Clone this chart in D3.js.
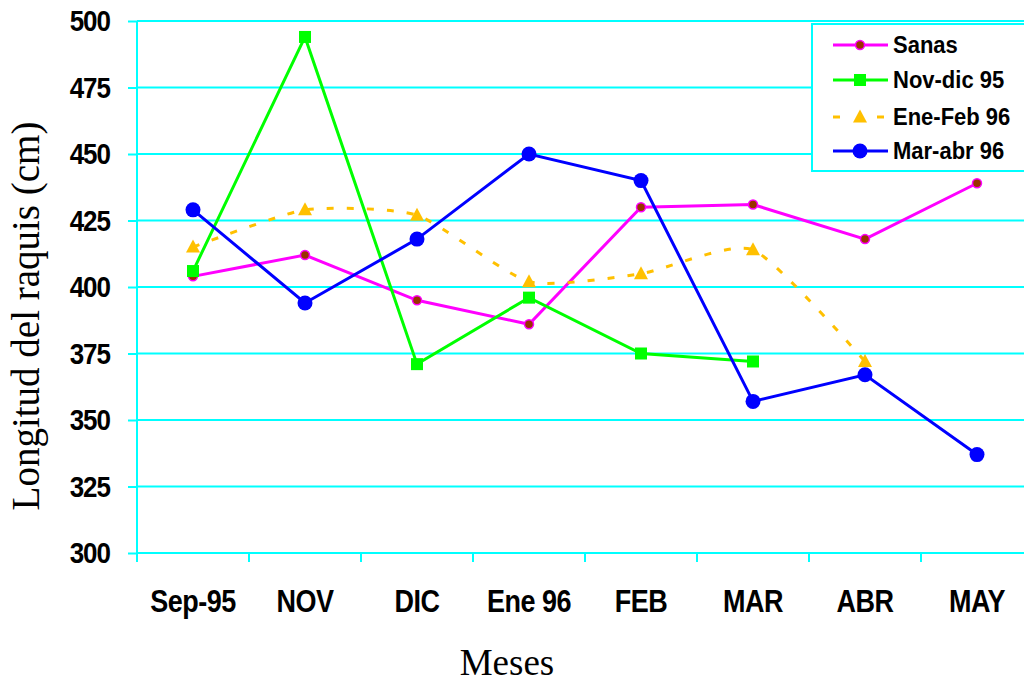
<!DOCTYPE html>
<html>
<head>
<meta charset="utf-8">
<script src="https://cdn.jsdelivr.net/npm/d3@7"></script>
<style>
  html, body { margin: 0; padding: 0; background: #ffffff; overflow: hidden; }
  svg { display: block; }
</style>
</head>
<body>
<svg id="chart" width="1024" height="682"></svg>
<script>
// ---- data ----
const categories = ["Sep-95", "NOV", "DIC", "Ene 96", "FEB", "MAR", "ABR", "MAY"];
const sanas   = [404, 412, 395, 386, 430, 431, 418, 439];
const novDic95 = [406, 494, 371, 396, 375, 372];
const eneFeb96 = [415, 429, 427, 402, 405, 414, 372];
const marAbr96 = [429, 394, 418, 450, 440, 357, 367, 337];
const seriesNames = ["Sanas", "Nov-dic 95", "Ene-Feb 96", "Mar-abr 96"];
const yTicks = [300, 325, 350, 375, 400, 425, 450, 475, 500];
const xTitle = "Meses";
const yTitle = "Longitud del raquis (cm)";

(function () {
// ---- layout ----
const svg = d3.select("#chart");
const plotLeft = 137, plotTop = 21, plotBottom = 553, step = 112;
const cyan = "#00FFFF";
const boldFont = "'Liberation Sans', Arial, sans-serif";
const serifFont = "'Liberation Serif', 'Times New Roman', serif";

const x = d3.scaleBand().domain(categories).range([plotLeft, plotLeft + step * categories.length]).padding(0);
const y = d3.scaleLinear().domain([300, 500]).range([plotBottom, plotTop]);
const cx = c => x(c) + x.bandwidth() / 2;

// gridlines
svg.append("g").selectAll("line").data(yTicks).join("line")
  .attr("x1", plotLeft).attr("x2", 1024)
  .attr("y1", d => y(d)).attr("y2", d => y(d))
  .attr("stroke", cyan).attr("stroke-width", 2);

// y axis
const yAxis = svg.append("g").attr("transform", `translate(${plotLeft},0)`)
  .call(d3.axisLeft(y).tickValues(yTicks).tickSize(9).tickSizeOuter(0).tickPadding(18));
yAxis.select(".domain").attr("stroke", cyan).attr("stroke-width", 2)
  .attr("d", `M0,${plotTop}V${plotBottom + 8}`);
yAxis.selectAll(".tick line").attr("stroke", cyan).attr("stroke-width", 2);
yAxis.selectAll(".tick text")
  .attr("fill", "#000").attr("font-family", boldFont).attr("font-weight", "bold")
  .attr("font-size", 26).attr("letter-spacing", "-1")
  .attr("transform", "scale(1,1.12)").attr("dy", "0.34em");

// x axis
const xAxis = svg.append("g").attr("transform", `translate(0,${plotBottom})`)
  .call(d3.axisBottom(x).tickSize(0).tickSizeOuter(0).tickPadding(0));
xAxis.select(".domain").remove();
xAxis.selectAll(".tick text")
  .attr("fill", "#000").attr("font-family", boldFont).attr("font-weight", "bold")
  .attr("font-size", 27).attr("letter-spacing", "-0.5")
  .attr("dy", 0).attr("y", 51)
  .attr("transform", "scale(1,1.15)");
// x tick marks between categories
svg.append("g").selectAll("line").data(categories).join("line")
  .attr("x1", d => x(d)).attr("x2", d => x(d))
  .attr("y1", plotBottom).attr("y2", plotBottom + 9)
  .attr("stroke", cyan).attr("stroke-width", 2);

// titles
svg.append("text").text(xTitle)
  .attr("x", 507).attr("y", 675).attr("text-anchor", "middle")
  .attr("font-family", serifFont).attr("font-size", 37).attr("fill", "#000");
svg.append("text").text(yTitle)
  .attr("transform", "translate(39,316) rotate(-90)").attr("text-anchor", "middle")
  .attr("font-family", serifFont).attr("font-size", 39).attr("fill", "#000");

// series definitions
const series = [
  { name: seriesNames[0], values: sanas, color: "#FF00FF", marker: "sanas", curve: d3.curveLinear, dash: null },
  { name: seriesNames[1], values: novDic95, color: "#00FF00", marker: "square", curve: d3.curveLinear, dash: null },
  { name: seriesNames[2], values: eneFeb96, color: "#FFC000", marker: "triangle", curve: d3.curveCardinal.tension(0.4), dash: "7,13" },
  { name: seriesNames[3], values: marAbr96, color: "#0000FF", marker: "circle", curve: d3.curveLinear, dash: null }
];

function drawMarker(g, type, color, px, py) {
  if (type === "sanas") {
    g.append("circle").attr("cx", px).attr("cy", py).attr("r", 4.5)
      .attr("fill", "#993300").attr("stroke", "#FF00FF").attr("stroke-width", 1.5);
  } else if (type === "square") {
    g.append("rect").attr("x", px - 6).attr("y", py - 6).attr("width", 12).attr("height", 12)
      .attr("fill", color);
  } else if (type === "triangle") {
    g.append("path").attr("d", `M${px},${py - 7.5}L${px + 7},${py + 5.5}L${px - 7},${py + 5.5}Z`)
      .attr("fill", color);
  } else {
    g.append("circle").attr("cx", px).attr("cy", py).attr("r", 7.5).attr("fill", color);
  }
}

const plot = svg.append("g");
series.forEach(s => {
  const pts = s.values.map((v, i) => [cx(categories[i]), y(v)]);
  const line = d3.line().curve(s.curve);
  plot.append("path").attr("d", line(pts))
    .attr("fill", "none").attr("stroke", s.color).attr("stroke-width", 3)
    .attr("stroke-dasharray", s.dash);
  const mg = plot.append("g");
  pts.forEach(p => drawMarker(mg, s.marker, s.color, p[0], p[1]));
});

// legend
const lg = svg.append("g");
lg.append("rect").attr("x", 812).attr("y", 24).attr("width", 230).attr("height", 147)
  .attr("fill", "#fff").attr("stroke", cyan).attr("stroke-width", 2);
const legendY = [45, 80, 117, 151];
series.forEach((s, i) => {
  const ly = legendY[i];
  if (s.dash) {
    lg.append("line").attr("x1", 833).attr("x2", 840).attr("y1", ly).attr("y2", ly)
      .attr("stroke", s.color).attr("stroke-width", 3);
    lg.append("line").attr("x1", 877).attr("x2", 884).attr("y1", ly).attr("y2", ly)
      .attr("stroke", s.color).attr("stroke-width", 3);
  } else {
    lg.append("line").attr("x1", 833).attr("x2", 888).attr("y1", ly).attr("y2", ly)
      .attr("stroke", s.color).attr("stroke-width", 3);
  }
  drawMarker(lg, s.marker, s.color, 860, ly);
  lg.append("text").text(s.name).attr("x", 893).attr("y", ly).attr("dy", "0.36em")
    .attr("font-family", boldFont).attr("font-weight", "bold").attr("font-size", 22)
    .attr("transform", `translate(0,${ly}) scale(1,1.05) translate(0,${-ly})`)
    .attr("fill", "#000");
});
})();
</script>
</body>
</html>
